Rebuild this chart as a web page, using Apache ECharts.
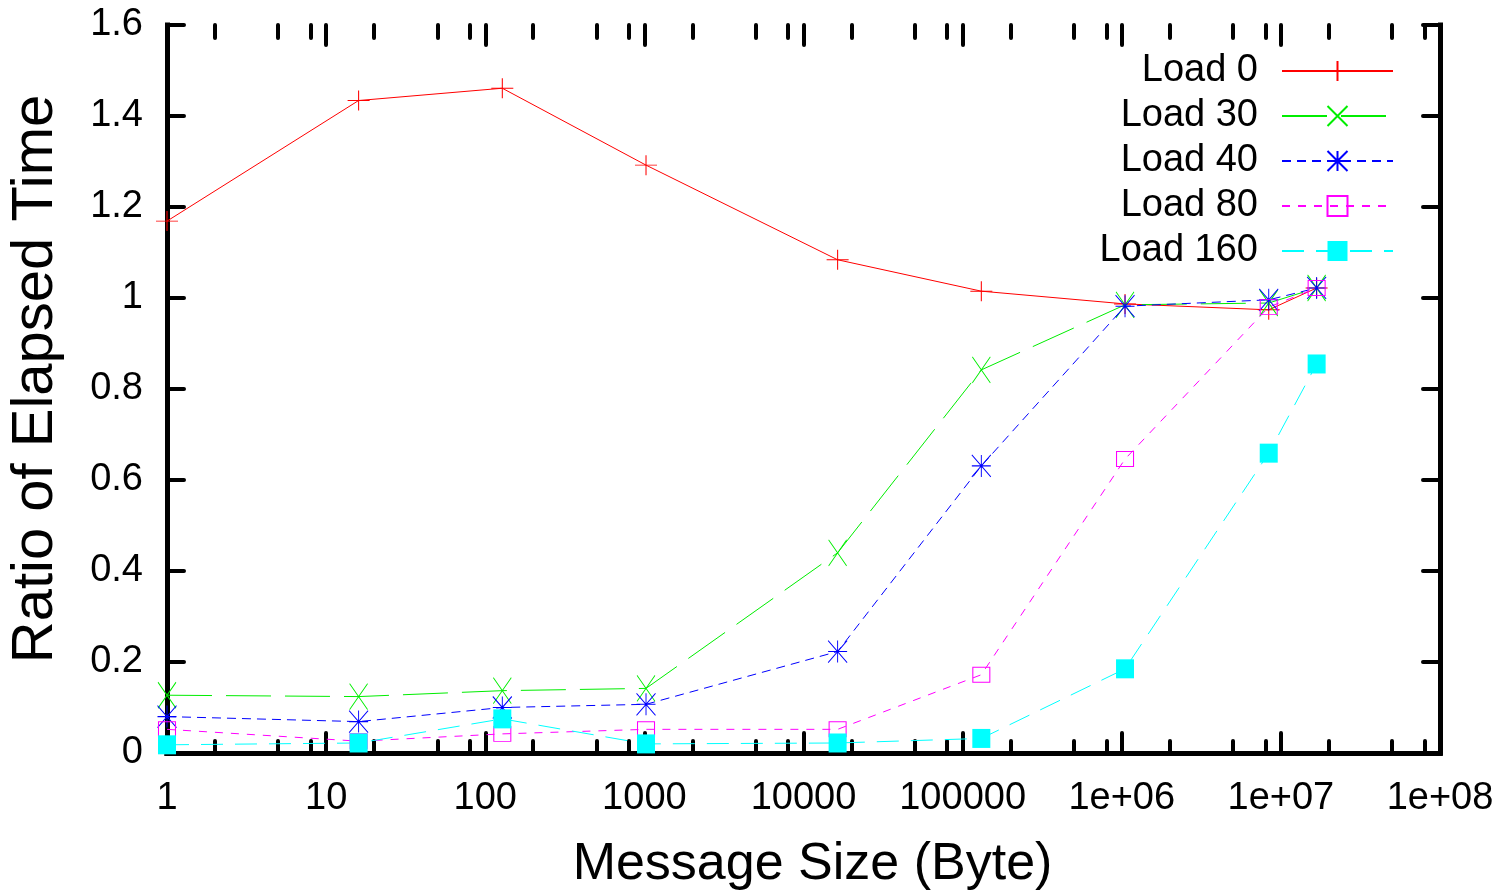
<!DOCTYPE html>
<html>
<head>
<meta charset="utf-8">
<script src="https://cdn.jsdelivr.net/npm/echarts@6/dist/echarts.min.js"></script>
<style>
html,body{margin:0;padding:0;background:#fff;}
#chart{width:1503px;height:892px;}
</style>
</head>
<body>
<div id="chart"></div>
<script>
// ---- data ----
var messageSizes = [1, 16, 128, 1024, 16384, 131072, 1048576, 8388608, 16777216];
var load0   = [1.169, 1.434, 1.461, 1.292, 1.084, 1.015, 0.987, 0.974, 1.022];
var load30  = [0.127, 0.124, 0.137, 0.142, 0.440, 0.842, 0.985, 0.989, 1.022];
var load40  = [0.080, 0.069, 0.100, 0.107, 0.223, 0.631, 0.982, 0.996, 1.022];
var load80  = [0.052, 0.026, 0.042, 0.052, 0.052, 0.172, 0.646, 0.980, 1.022];
var load160 = [0.018, 0.022, 0.075, 0.020, 0.022, 0.032, 0.185, 0.659, 0.855];
var seriesNames = ['Load 0', 'Load 30', 'Load 40', 'Load 80', 'Load 160'];
var xMajorTicks = [1, 10, 100, 1000, 10000, 100000, 1000000, 10000000, 100000000];
var xTickLabels = ['1', '10', '100', '1000', '10000', '100000', '1e+06', '1e+07', '1e+08'];
var xMinorFactors = [2, 5, 8];
var yTickLabels = ['0', '0.2', '0.4', '0.6', '0.8', '1', '1.2', '1.4', '1.6'];

var xMinorTicks = [];
for (var d = 0; d < xMajorTicks.length - 1; d++) {
  for (var m = 0; m < xMinorFactors.length; m++) xMinorTicks.push(xMajorTicks[d] * xMinorFactors[m]);
}
function pairs(vals) { return messageSizes.map(function (s, i) { return [s, vals[i]]; }); }

var FONT = 'Liberation Sans, Arial, sans-serif';
var axisLineStyle = { color: '#000', width: 5, cap: 'square' };
var tickStyle = { color: '#000', width: 4, cap: 'round' };
function gridBox() {
  return { left: 167, right: 63, top: 25, bottom: 139, containLabel: false, outerBoundsMode: 'none' };
}

// tick-only axis (no line, no labels)
function tickAxis(grid, pos, values, len) {
  return {
    gridIndex: grid, type: 'log', logBase: 10, position: pos,
    min: 1, max: 100000000,
    splitLine: { show: false },
    axisLine: { show: false },
    axisTick: { show: true, inside: true, length: len, customValues: values, lineStyle: tickStyle },
    axisLabel: { show: false }
  };
}

var option = {
  backgroundColor: '#fff',
  animation: false,
  grid: [gridBox(), gridBox(), gridBox()],
  xAxis: [
    {
      gridIndex: 0, type: 'log', logBase: 10, position: 'bottom',
      min: 1, max: 100000000,
      splitLine: { show: false },
      axisLine: { show: true, lineStyle: axisLineStyle },
      axisTick: { show: false },
      axisLabel: {
        show: true, customValues: xMajorTicks, margin: 27,
        fontSize: 38, color: '#000', fontFamily: FONT,
        formatter: function (v) {
          var idx = Math.round(Math.log(v) / Math.LN10);
          return xTickLabels[idx];
        }
      },
      name: 'Message Size (Byte)', nameLocation: 'middle', nameGap: 86,
      nameTextStyle: { fontSize: 52, color: '#000', fontFamily: FONT, padding: [0, 0, 0, 18] }
    },
    {
      gridIndex: 0, type: 'log', logBase: 10, position: 'top',
      min: 1, max: 100000000,
      splitLine: { show: false },
      axisLine: { show: true, lineStyle: axisLineStyle },
      axisTick: { show: false },
      axisLabel: { show: false }
    },
    tickAxis(1, 'bottom', xMinorTicks, 12),
    tickAxis(1, 'top', xMinorTicks, 13),
    tickAxis(2, 'bottom', xMajorTicks, 20),
    tickAxis(2, 'top', xMajorTicks, 20)
  ],
  yAxis: [
    {
      gridIndex: 0, type: 'value', position: 'left', min: 0, max: 1.6, interval: 0.2,
      splitLine: { show: false },
      axisLine: { show: true, lineStyle: axisLineStyle },
      axisTick: { show: true, inside: true, length: 17, lineStyle: tickStyle },
      axisLabel: { margin: 24, fontSize: 38, color: '#000', fontFamily: FONT,
        formatter: function (v) { return yTickLabels[Math.round(v / 0.2)]; } },
      name: 'Ratio of Elapsed Time', nameLocation: 'middle', nameGap: 102,
      nameTextStyle: { fontSize: 58, color: '#000', fontFamily: FONT, padding: [0, 0, 0, 20] }
    },
    {
      gridIndex: 0, type: 'value', position: 'right', min: 0, max: 1.6, interval: 0.2,
      splitLine: { show: false },
      axisLine: { show: true, lineStyle: axisLineStyle },
      axisTick: { show: true, inside: true, length: 17, lineStyle: tickStyle },
      axisLabel: { show: false }
    },
    { gridIndex: 1, type: 'value', show: false, min: 0, max: 1 },
    { gridIndex: 2, type: 'value', show: false, min: 0, max: 1 }
  ],
  legend: {
    right: 104, top: 47, orient: 'vertical', align: 'right',
    itemWidth: 111, itemHeight: 25, itemGap: 7,
    textStyle: { fontSize: 38, color: '#000', fontFamily: FONT, lineHeight: 38, padding: [0, 19, 0, 0] },
    data: seriesNames
  },
  series: [
    {
      name: seriesNames[0], type: 'line', data: pairs(load0),
      symbol: 'path://M0,10L20,10M10,0L10,20', symbolSize: [22, 20],
      itemStyle: { color: '#ff0000', borderColor: '#ff0000', borderWidth: 1 },
      lineStyle: { color: '#ff0000', width: 1, type: 'solid' }
    },
    {
      name: seriesNames[1], type: 'line', data: pairs(load30),
      symbol: 'path://M0,0L20,20M20,0L0,20', symbolSize: [18, 26],
      itemStyle: { color: '#00ee00', borderColor: '#00ee00', borderWidth: 1 },
      lineStyle: { color: '#00ee00', width: 1, type: [45, 14] }
    },
    {
      name: seriesNames[2], type: 'line', data: pairs(load40),
      symbol: 'path://M0,0L20,20M20,0L0,20M10,0L10,20M0,10L20,10', symbolSize: [19, 22],
      itemStyle: { color: '#0000ff', borderColor: '#0000ff', borderWidth: 1 },
      lineStyle: { color: '#0000ff', width: 1, type: [9, 6] }
    },
    {
      name: seriesNames[3], type: 'line', data: pairs(load80),
      symbol: 'rect', symbolSize: [17, 15],
      itemStyle: { color: 'rgba(255,255,255,0)', borderColor: '#ff00ff', borderWidth: 1 },
      lineStyle: { color: '#ff00ff', width: 1, type: [8, 8] }
    },
    {
      name: seriesNames[4], type: 'line', data: pairs(load160),
      symbol: 'rect', symbolSize: [18, 19],
      itemStyle: { color: '#00ffff', borderColor: '#00ffff', borderWidth: 0 },
      lineStyle: { color: '#00ffff', width: 1, type: [22, 12] }
    }
  ]
};
var chart = echarts.init(document.getElementById('chart'), null, { renderer: 'canvas' });
chart.setOption(option);
</script>
</body>
</html>
